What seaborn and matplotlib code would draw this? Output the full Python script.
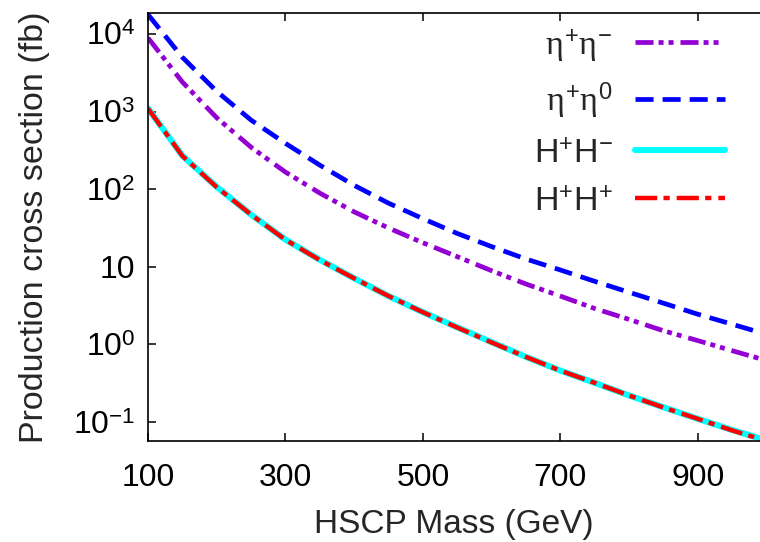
import pandas as pd
import seaborn as sns
import matplotlib.pyplot as plt
from matplotlib.ticker import FixedLocator, FixedFormatter, NullLocator

mass = [100, 150, 200, 250, 300, 350, 400, 450, 500, 550,
        600, 650, 700, 750, 800, 850, 900, 950, 1000]

# production cross sections in fb
eta_pm = [8900, 2400, 832, 347, 166, 89, 51, 31.6, 20.4, 13.5,
          8.9, 6.0, 4.2, 2.9, 2.1, 1.5, 1.12, 0.83, 0.62]
eta_p0 = [17800, 5000, 1820, 776, 389, 204, 112, 66, 41.7, 26.9,
          18.2, 12.6, 9.1, 6.5, 4.7, 3.4, 2.45, 1.82, 1.35]
h_pm = [1100, 270, 107, 47, 22.4, 12.3, 7.1, 4.2, 2.6, 1.66,
        1.07, 0.69, 0.46, 0.32, 0.22, 0.155, 0.11, 0.079, 0.058]
h_pp = [1095, 268, 106, 47, 22.3, 12.2, 7.1, 4.2, 2.6, 1.65,
        1.06, 0.69, 0.46, 0.32, 0.22, 0.154, 0.11, 0.078, 0.057]

labels = ["$\\eta^{+}\\eta^{-}$", "$\\eta^{+}\\eta^{0}$", "H$^{+}$H$^{-}$", "H$^{+}$H$^{+}$"]
keys = ["eta+eta-", "eta+eta0", "H+H-", "H+H+"]
colors = ["#9400d3", "#0000ff", "#00ffff", "#ff0000"]
ytick_vals = [0.1, 1, 10, 100, 1000, 10000]
ytick_labels = ["10$^{-1}$", "10$^{0}$", "10", "10$^{2}$", "10$^{3}$", "10$^{4}$"]
xtick_vals = [100, 300, 500, 700, 900]

rows = []
for key, vals in zip(keys, [eta_pm, eta_p0, h_pm, h_pp]):
    for m, v in zip(mass, vals):
        rows.append({"mass": m, "xsec": v, "process": key})
df = pd.DataFrame(rows)

sns.set_style("ticks")
plt.rcParams["font.family"] = ["Liberation Sans", "DejaVu Sans"]
plt.rcParams["mathtext.fontset"] = "custom"
plt.rcParams["mathtext.rm"] = "Liberation Sans"
plt.rcParams["mathtext.it"] = "Liberation Serif"
plt.rcParams["mathtext.sf"] = "Liberation Sans"
plt.rcParams["lines.scale_dashes"] = False

fig = plt.figure(figsize=(7.6, 5.42), dpi=100)
ax = fig.add_axes([148 / 760, 101 / 542, 612 / 760, 428 / 542])

dashes = {
    "eta+eta-": (13, 3.6, 3.6, 3.6, 3.6, 5),
    "eta+eta0": (13, 6.5),
    "H+H-": "",
    "H+H+": (16, 4.5, 4.5, 5),
}
sns.lineplot(df, x="mass", y="xsec", hue="process", hue_order=keys,
             style="process", style_order=keys, dashes=dashes,
             palette=colors, legend=False, ax=ax)

lines = ax.get_lines()[:4]
for ln, lw in zip(lines, [3.4, 3.4, 4.4, 3.2]):
    ln.set_linewidth(lw)
    ln.set_dash_capstyle("butt")

ax.set_yscale("log")
ax.set_ylim(0.057, 18600)
ax.set_xlim(100, 990.5)
ax.yaxis.set_major_locator(FixedLocator(ytick_vals))
ax.yaxis.set_major_formatter(FixedFormatter(ytick_labels))
ax.yaxis.set_minor_locator(NullLocator())
ax.xaxis.set_major_locator(FixedLocator(xtick_vals))

ax.tick_params(axis="both", direction="in", length=6, width=1.1, labelsize=23, colors="black")
ax.tick_params(axis="x", top=True, pad=16)
ax.tick_params(axis="y", pad=9)
ax.spines["right"].set_visible(False)
for s in ["left", "bottom", "top"]:
    ax.spines[s].set_linewidth(1.2)
    ax.spines[s].set_color("black")

ax.set_xlabel("HSCP Mass (GeV)", fontsize=24, labelpad=11)
ax.set_ylabel("Production cross section (fb)", fontsize=24.5, labelpad=17)

leg = ax.legend(lines, labels, loc="upper right",
                bbox_to_anchor=(725 / 760, 1 - 27 / 542),
                bbox_transform=fig.transFigure, frameon=False,
                markerfirst=False, handlelength=2.65, handletextpad=0.65,
                labelspacing=0.5, borderpad=0, borderaxespad=0, fontsize=24.5)

fig.savefig("out.png", dpi=100)
